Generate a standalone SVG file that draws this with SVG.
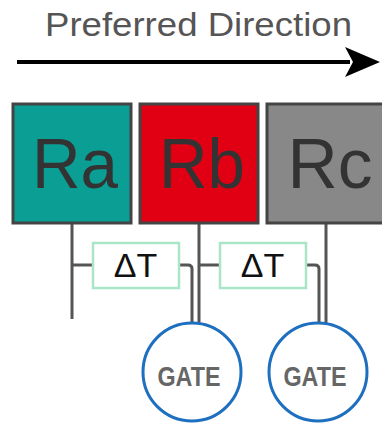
<svg xmlns="http://www.w3.org/2000/svg" width="382" height="423" viewBox="0 0 382 423">
  <style>
    .reg { stroke: #444; stroke-width: 3; }
    .reg-label { font-family: "Liberation Sans", Arial, sans-serif; font-size: 70px; fill: #333; text-anchor: middle; }
    .wire { fill: none; stroke: #555; stroke-width: 3; }
    .delay rect { fill: #fff; stroke: #a9e5c6; stroke-width: 2.5; }
    .delay text { font-family: "Liberation Sans", Arial, sans-serif; font-size: 34px; fill: #111; text-anchor: middle; }
    .gate circle { fill: #fff; stroke: #1e6fc0; stroke-width: 3; }
    .gate text { font-family: "Liberation Sans", Arial, sans-serif; font-size: 27px; font-weight: bold; fill: #666; text-anchor: middle; }
  </style>

  <!-- direction heading and arrow -->
  <g id="direction">
    <text x="198.5" y="36" font-family="Liberation Sans, Arial, sans-serif" font-size="34" fill="#555" text-anchor="middle" textLength="307" lengthAdjust="spacingAndGlyphs">Preferred Direction</text>
    <line x1="17" y1="62" x2="350" y2="62" stroke="#000" stroke-width="4"/>
    <polygon points="345,47 380,62 345,77 353,62" fill="#000"/>
  </g>

  <!-- connectors -->
  <g id="connectors">
    <!-- register taps -->
    <path class="wire" d="M72,224 V319"/>
    <path class="wire" d="M199,224 V324"/>
    <path class="wire" d="M326,224 V324"/>
    <!-- branches into delay elements -->
    <path class="wire" d="M72,265 H93"/>
    <path class="wire" d="M199,265 H220"/>
    <!-- delay outputs to gates -->
    <path class="wire" d="M179,265 H188 Q192,265 192,269 V324"/>
    <path class="wire" d="M306,265 H315 Q319,265 319,269 V324"/>
  </g>

  <!-- registers -->
  <g id="Ra">
    <rect class="reg" x="13" y="104" width="118" height="119" fill="#0b9e95"/>
    <text class="reg-label" x="75" y="188" textLength="86" lengthAdjust="spacingAndGlyphs">Ra</text>
  </g>
  <g id="Rb">
    <rect class="reg" x="140" y="104" width="118" height="119" fill="#e10013"/>
    <text class="reg-label" x="202" y="188" textLength="86" lengthAdjust="spacingAndGlyphs">Rb</text>
  </g>
  <g id="Rc">
    <rect class="reg" x="267" y="104" width="118" height="119" fill="#888"/>
    <text class="reg-label" x="330" y="188" textLength="85" lengthAdjust="spacingAndGlyphs">Rc</text>
  </g>

  <!-- delay elements -->
  <g id="delay1" class="delay">
    <rect x="93" y="243" width="86" height="45"/>
    <text x="135.5" y="277">ΔT</text>
  </g>
  <g id="delay2" class="delay">
    <rect x="220" y="243" width="86" height="45"/>
    <text x="262.5" y="277">ΔT</text>
  </g>

  <!-- gates -->
  <g id="gate1" class="gate">
    <circle cx="192" cy="372" r="49"/>
    <text x="189" y="386" textLength="63" lengthAdjust="spacingAndGlyphs">GATE</text>
  </g>
  <g id="gate2" class="gate">
    <circle cx="318" cy="372" r="49"/>
    <text x="315" y="386" textLength="63" lengthAdjust="spacingAndGlyphs">GATE</text>
  </g>
</svg>
